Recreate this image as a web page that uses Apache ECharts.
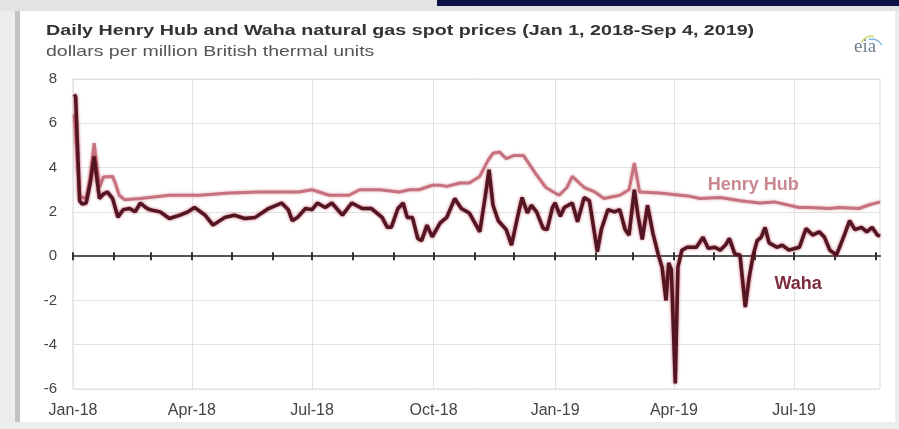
<!DOCTYPE html>
<html><head><meta charset="utf-8">
<script src="https://cdn.jsdelivr.net/npm/echarts@6/dist/echarts.min.js"></script>
<style>html,body{margin:0;padding:0;background:#eceeee}#c{width:899px;height:429px}</style>
</head><body><div id="c"></div>
<script>
// ---- data ----
const startDate = '2018-01-01';
const endDate = '2019-09-04';

const hhDates = ['2018-01-02','2018-01-06','2018-01-11','2018-01-14','2018-01-17','2018-01-21','2018-01-24','2018-01-31','2018-02-02','2018-02-05','2018-02-09','2018-02-21','2018-03-15','2018-04-07','2018-04-29','2018-05-22','2018-06-08','2018-06-21','2018-07-01','2018-07-14','2018-07-29','2018-08-06','2018-08-21','2018-09-05','2018-09-13','2018-09-20','2018-09-30','2018-10-06','2018-10-11','2018-10-21','2018-10-28','2018-11-05','2018-11-11','2018-11-15','2018-11-20','2018-11-25','2018-12-01','2018-12-08','2018-12-12','2018-12-17','2018-12-25','2019-01-01','2019-01-04','2019-01-10','2019-01-14','2019-01-23','2019-01-31','2019-02-07','2019-02-19','2019-02-26','2019-03-02','2019-03-06','2019-03-21','2019-04-13','2019-04-21','2019-05-06','2019-05-21','2019-06-05','2019-06-16','2019-06-27','2019-07-05','2019-07-13','2019-07-28','2019-08-04','2019-08-19','2019-08-26','2019-09-04'];
const hhValues = [6.4,2.7,2.6,3.5,5.1,3.1,3.57,3.6,3.3,2.75,2.55,2.6,2.75,2.75,2.85,2.9,2.9,2.9,3.0,2.75,2.75,3.0,3.0,2.9,3.0,3.0,3.2,3.2,3.15,3.3,3.3,3.6,4.3,4.65,4.7,4.4,4.55,4.55,4.2,3.75,3.1,2.85,2.75,3.1,3.6,3.1,2.9,2.6,2.75,3.0,4.2,2.9,2.85,2.7,2.6,2.65,2.5,2.4,2.45,2.3,2.2,2.2,2.15,2.2,2.15,2.3,2.45];

const wahaDates = ['2018-01-02','2018-01-03','2018-01-06','2018-01-08','2018-01-11','2018-01-14','2018-01-17','2018-01-21','2018-01-24','2018-01-27','2018-01-31','2018-02-04','2018-02-08','2018-02-13','2018-02-17','2018-02-21','2018-02-25','2018-02-28','2018-03-08','2018-03-15','2018-03-23','2018-03-29','2018-04-03','2018-04-11','2018-04-17','2018-04-26','2018-05-03','2018-05-11','2018-05-19','2018-05-29','2018-06-08','2018-06-13','2018-06-16','2018-06-20','2018-06-26','2018-07-01','2018-07-05','2018-07-11','2018-07-16','2018-07-24','2018-07-31','2018-08-08','2018-08-15','2018-08-23','2018-08-27','2018-08-30','2018-09-04','2018-09-08','2018-09-11','2018-09-15','2018-09-19','2018-09-22','2018-09-26','2018-09-30','2018-10-06','2018-10-11','2018-10-17','2018-10-22','2018-10-28','2018-11-05','2018-11-09','2018-11-12','2018-11-15','2018-11-19','2018-11-25','2018-11-29','2018-12-03','2018-12-07','2018-12-11','2018-12-14','2018-12-18','2018-12-23','2018-12-26','2018-12-30','2019-01-01','2019-01-05','2019-01-08','2019-01-14','2019-01-18','2019-01-23','2019-01-27','2019-02-02','2019-02-05','2019-02-10','2019-02-15','2019-02-19','2019-02-23','2019-02-26','2019-03-02','2019-03-05','2019-03-08','2019-03-12','2019-03-16','2019-03-20','2019-03-23','2019-03-26','2019-03-28','2019-03-30','2019-04-02','2019-04-04','2019-04-07','2019-04-11','2019-04-18','2019-04-23','2019-04-27','2019-05-02','2019-05-06','2019-05-10','2019-05-13','2019-05-17','2019-05-21','2019-05-25','2019-05-28','2019-05-31','2019-06-03','2019-06-06','2019-06-09','2019-06-12','2019-06-18','2019-06-22','2019-06-27','2019-07-05','2019-07-10','2019-07-15','2019-07-20','2019-07-24','2019-07-28','2019-08-02','2019-08-08','2019-08-12','2019-08-16','2019-08-21','2019-08-25','2019-08-29','2019-09-02','2019-09-04'];
const wahaValues = [7.3,7.2,2.5,2.35,2.4,3.3,4.5,2.6,2.8,2.9,2.6,1.76,2.1,2.15,2.0,2.4,2.2,2.1,2.0,1.7,1.85,2.0,2.2,1.85,1.4,1.75,1.85,1.7,1.75,2.15,2.4,2.1,1.6,1.75,2.15,2.1,2.4,2.2,2.4,1.85,2.4,2.15,2.15,1.75,1.3,1.3,2.15,2.4,1.75,1.75,0.8,0.7,1.4,0.87,1.5,1.75,2.6,2.15,1.95,1.1,2.65,3.9,2.3,1.6,1.2,0.5,1.6,2.65,1.95,2.3,2.0,1.25,1.2,2.2,2.4,1.8,2.2,2.4,1.55,2.65,2.5,0.2,1.2,2.1,2.0,2.1,1.2,0.95,3.0,1.75,0.75,2.3,1.05,0.1,-0.5,-2.0,-0.3,-0.6,-5.75,-0.5,0.27,0.4,0.4,0.85,0.35,0.4,0.27,0.5,0.8,0.1,0.05,-2.3,-0.95,0.05,0.7,0.85,1.3,0.6,0.4,0.5,0.27,0.4,1.25,0.95,1.1,0.85,0.27,0.05,0.95,1.6,1.2,1.3,1.1,1.3,0.95,0.9];

const quarterDates = ['2018-01-01','2018-04-01','2018-07-01','2018-10-01','2019-01-01','2019-04-01','2019-07-01'];
const quarterLabels = ['Jan-18','Apr-18','Jul-18','Oct-18','Jan-19','Apr-19','Jul-19'];
const yMin = -6, yMax = 8, yStep = 2;

const titleText = 'Daily Henry Hub and Waha natural gas spot prices (Jan 1, 2018-Sep 4, 2019)';
const subtitleText = 'dollars per million British thermal units';
const seriesNames = ['Henry Hub', 'Waha'];
const labelAnchors = [['2019-05-31', 3.2], ['2019-07-04', -1.26]];

// ---- build ----
const days = [];
for (let t = Date.parse(startDate + 'T00:00:00Z'); t <= Date.parse(endDate + 'T00:00:00Z'); t += 86400000) {
  days.push(new Date(t).toISOString().slice(0, 10));
}
const isQuarter = (i, v) => quarterDates.indexOf(v) >= 0;
const isMonth = (i, v) => v.slice(8) === '01';
const FONT = '"Liberation Sans", Arial, sans-serif';

const chart = echarts.init(document.getElementById('c'), null, {renderer: 'canvas'});
const baseX = {type: 'category', data: days, boundaryGap: false, gridIndex: 0};
const zeroLine = {color: '#555555', width: 2};
chart.setOption({
  animation: false,
  backgroundColor: '#eceeee',
  graphic: [
    {type: 'rect', shape: {x: 0, y: 0, width: 899, height: 11}, style: {fill: '#e2e4e4'}, z: -10},
    {type: 'rect', shape: {x: 437, y: 0, width: 462, height: 6}, style: {fill: '#0b1145'}, z: -9},
    {type: 'rect', shape: {x: 15, y: 11, width: 5, height: 411}, style: {fill: '#c2c4c4'}, z: -9},
    {type: 'rect', shape: {x: 20, y: 11, width: 875, height: 411}, style: {fill: '#ffffff'}, z: -9},
    {type: 'text', left: 46, top: 23, style: {text: titleText, fontFamily: FONT, fontSize: 15.5, fontWeight: 'bold', fill: '#333333'}, scaleX: 1.27, originX: 46},
    {type: 'text', left: 46, top: 44, style: {text: subtitleText, fontFamily: FONT, fontSize: 15, fill: '#555555'}, scaleX: 1.3, originX: 46},
    {type: 'text', left: 854, top: 38, style: {text: 'eia', fontFamily: '"Liberation Serif", serif', fontSize: 19, fill: '#6f7f90'}},
    {type: 'arc', shape: {cx: 872, cy: 48, r: 12, startAngle: -Math.PI * 0.85, endAngle: -Math.PI * 0.45}, style: {stroke: '#c9d96a', lineWidth: 1.5, fill: null}},
    {type: 'arc', shape: {cx: 872, cy: 50, r: 11, startAngle: -Math.PI * 0.6, endAngle: -Math.PI * 0.15}, style: {stroke: '#7fb6d8', lineWidth: 1.5, fill: null}}
  ],
  grid: {left: 73, right: 19, top: 79, bottom: 40, show: true, borderColor: '#dadada', borderWidth: 1, backgroundColor: 'transparent'},
  xAxis: [
    Object.assign({}, baseX, {
      position: 'bottom',
      axisLine: {show: false, onZero: false},
      axisTick: {show: false},
      axisLabel: {interval: isQuarter, formatter: v => quarterLabels[quarterDates.indexOf(v)] || '', color: '#444', fontSize: 16, fontFamily: FONT, margin: 14},
      splitLine: {show: true, interval: isQuarter, lineStyle: {color: '#e2e2e2', width: 1}}
    }),
    Object.assign({}, baseX, {
      position: 'bottom',
      axisLine: {show: true, onZero: true, onZeroAxisIndex: 0, lineStyle: zeroLine},
      axisTick: {show: true, interval: isMonth, length: 4, lineStyle: {color: '#333', width: 2}},
      axisLabel: {show: false},
      splitLine: {show: false}
    }),
    Object.assign({}, baseX, {
      position: 'top',
      axisLine: {show: true, onZero: true, onZeroAxisIndex: 0, lineStyle: zeroLine},
      axisTick: {show: true, interval: isMonth, length: 4, lineStyle: {color: '#333', width: 2}},
      axisLabel: {show: false},
      splitLine: {show: false}
    })
  ],
  yAxis: {
    type: 'value', min: yMin, max: yMax, interval: yStep,
    axisLine: {show: false}, axisTick: {show: false},
    axisLabel: {color: '#444', fontSize: 15, fontFamily: FONT, margin: 16},
    splitLine: {lineStyle: {color: '#e2e2e2', width: 1}}
  },
  series: [
    {
      name: seriesNames[0], type: 'line', xAxisIndex: 0, symbol: 'none', z: 3,
      data: hhDates.map((d, i) => [d, hhValues[i]]),
      lineStyle: {color: '#c6727e', width: 3, shadowColor: 'rgba(220,150,160,0.9)', shadowBlur: 3},
      markPoint: {symbol: 'circle', symbolSize: 0, silent: true,
        data: [{coord: labelAnchors[0], label: {show: true, position: 'inside', formatter: seriesNames[0], color: '#c98891', fontSize: 18, fontWeight: 'bold', fontFamily: FONT}}]}
    },
    {
      name: seriesNames[1], type: 'line', xAxisIndex: 0, symbol: 'none', z: 4,
      data: wahaDates.map((d, i) => [d, wahaValues[i]]),
      lineStyle: {color: '#541522', width: 3.5, shadowColor: 'rgba(175,40,60,0.8)', shadowBlur: 3},
      markPoint: {symbol: 'circle', symbolSize: 0, silent: true,
        data: [{coord: labelAnchors[1], label: {show: true, position: 'inside', formatter: seriesNames[1], color: '#7c2c3c', fontSize: 18, fontWeight: 'bold', fontFamily: FONT}}]}
    }
  ]
});
</script>
</body></html>
